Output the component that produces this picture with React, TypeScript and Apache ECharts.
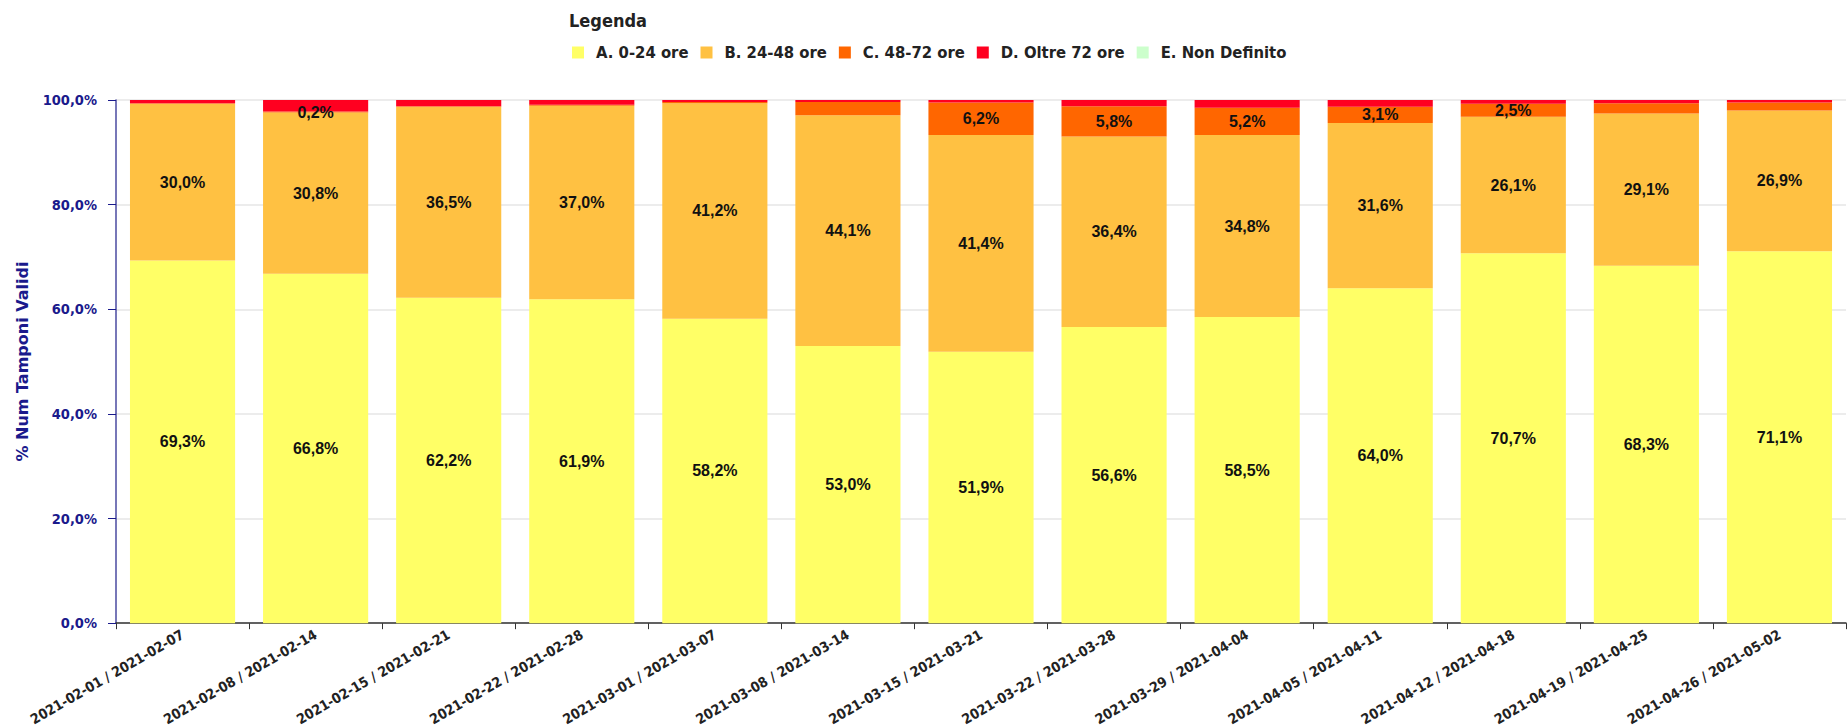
import React, { useEffect, useRef } from "react";
import * as echarts from "echarts";

const categories = [
  "2021-02-01 / 2021-02-07",
  "2021-02-08 / 2021-02-14",
  "2021-02-15 / 2021-02-21",
  "2021-02-22 / 2021-02-28",
  "2021-03-01 / 2021-03-07",
  "2021-03-08 / 2021-03-14",
  "2021-03-15 / 2021-03-21",
  "2021-03-22 / 2021-03-28",
  "2021-03-29 / 2021-04-04",
  "2021-04-05 / 2021-04-11",
  "2021-04-12 / 2021-04-18",
  "2021-04-19 / 2021-04-25",
  "2021-04-26 / 2021-05-02",
];

const seriesNames = ["A. 0-24 ore", "B. 24-48 ore", "C. 48-72 ore", "D. Oltre 72 ore", "E. Non Definito"];
const seriesColors = ["#FFFF66", "#FFC142", "#FF6600", "#FF0020", "#CCFFCC"];

const valuesA = [69.3, 66.8, 62.2, 61.9, 58.2, 53.0, 51.9, 56.6, 58.5, 64.0, 70.7, 68.3, 71.1];
const valuesB = [30.0, 30.8, 36.5, 37.0, 41.2, 44.1, 41.4, 36.4, 34.8, 31.6, 26.1, 29.1, 26.9];
const valuesC = [0.1, 0.2, 0.1, 0.2, 0.2, 2.5, 6.2, 5.8, 5.2, 3.1, 2.5, 2.0, 1.5];
const valuesD = [0.6, 2.2, 1.2, 0.9, 0.4, 0.4, 0.5, 1.2, 1.5, 1.3, 0.7, 0.6, 0.5];
const valuesE = [0, 0, 0, 0, 0, 0, 0, 0, 0, 0, 0, 0, 0];

const showA = [true, true, true, true, true, true, true, true, true, true, true, true, true];
const showB = [true, true, true, true, true, true, true, true, true, true, true, true, true];
const showC = [false, true, false, false, false, false, true, true, true, true, true, false, false];
const showD = [false, false, false, false, false, false, false, false, false, false, false, false, false];
const showE = [false, false, false, false, false, false, false, false, false, false, false, false, false];

const yTicks = { min: 0, max: 100, interval: 20 };

const fmt = (v: number) => v.toFixed(1).replace(".", ",") + "%";

const condensed = "Liberation Sans Narrow, DejaVu Sans Condensed, sans-serif";

export default function App() {
  const ref = useRef<HTMLDivElement>(null);
  useEffect(() => {
    document.body.style.margin = "0";
    if (!ref.current) return;
    const chart = echarts.init(ref.current, undefined, { renderer: "svg" });
    const allValues = [valuesA, valuesB, valuesC, valuesD, valuesE];
    const allShow = [showA, showB, showC, showD, showE];
    const series = seriesNames.map((name, i) => ({
      name,
      type: "bar",
      stack: "total",
      barCategoryGap: "21%",
      itemStyle: { color: seriesColors[i] },
      label: {
        show: false,
        position: "inside",
        color: "#111",
        fontFamily: "Liberation Sans, Arial, sans-serif",
        fontWeight: "bold",
        fontSize: 16,
        formatter: (p: any) => fmt(p.value),
      },
      data: allValues[i].map((v, j) => ({
        value: v,
        label: { show: allShow[i][j] },
      })),
    }));
    chart.setOption({
      animation: false,
      title: {
        text: "Legenda",
        left: 564,
        top: 6,
        textStyle: {
          fontFamily: condensed,
          fontWeight: "bold",
          fontSize: 18,
          color: "#222",
        },
      },
      legend: {
        left: 567,
        top: 39,
        itemWidth: 12,
        itemHeight: 12,
        itemGap: 12,
        icon: "rect",
        data: seriesNames,
        textStyle: {
          fontFamily: condensed,
          fontWeight: "bold",
          fontSize: 16.5,
          color: "#222",
          padding: [0, 0, 0, 7],
        },
      },
      grid: { left: 116, right: 1, top: 100, bottom: 103, containLabel: false },
      xAxis: {
        type: "category",
        data: categories,
        axisLine: { show: true, lineStyle: { color: "#333", width: 1.5 } },
        axisTick: { show: true, length: 6, lineStyle: { color: "#333" } },
        axisLabel: {
          rotate: 30,
          interval: 0,
          margin: 10,
          color: "#222",
          fontFamily: condensed,
          fontWeight: "bold",
          fontSize: 14,
        },
      },
      yAxis: {
        type: "value",
        min: yTicks.min,
        max: yTicks.max,
        interval: yTicks.interval,
        name: "% Num Tamponi Validi",
        nameLocation: "middle",
        nameGap: 86,
        nameTextStyle: {
          color: "#1a1a8c",
          fontFamily: "DejaVu Sans",
          fontWeight: "bold",
          fontSize: 16,
        },
        axisLine: { show: true, lineStyle: { color: "#4a4aa0", width: 1.5 } },
        axisTick: { show: true, length: 8, lineStyle: { color: "#1a1a8c" } },
        axisLabel: {
          color: "#1a1a8c",
          fontFamily: "DejaVu Sans Condensed, DejaVu Sans",
          fontWeight: "bold",
          fontSize: 14.5,
          margin: 19,
          formatter: (v: number) => fmt(v),
        },
        splitLine: { show: true, lineStyle: { color: "#e6e6e6", width: 1.5 } },
      },
      series,
    });
    return () => chart.dispose();
  }, []);
  return <div ref={ref} style={{ width: 1847, height: 728 }} />;
}
